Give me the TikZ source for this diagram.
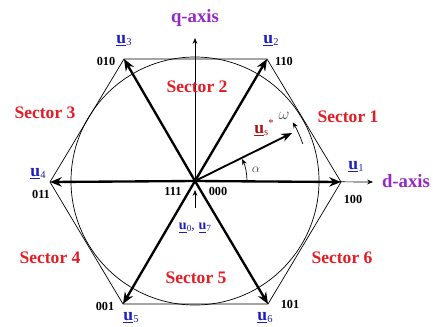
\documentclass[tikz,border=0pt]{standalone}
\usepackage{fontspec}
\setmainfont{Liberation Serif}
\usetikzlibrary{arrows.meta}
\definecolor{secred}{RGB}{228,28,36}
\definecolor{ublue}{RGB}{30,30,190}
\definecolor{axpurple}{RGB}{150,40,200}
\definecolor{usred}{RGB}{165,20,25}
\definecolor{thin}{RGB}{135,135,135}
\newcommand{\uvec}[1]{\underline{\textbf{u}}\raisebox{-0.25ex}{\small #1}}
\begin{document}
\begin{tikzpicture}[x=0.03cm,y=-0.03cm,
  vect/.style={line width=2pt,-{Stealth[length=10pt,width=8pt]}},
  thinline/.style={thin,line width=0.6pt},
  axis/.style={thin,line width=0.6pt,-{Stealth[length=5pt,width=4pt]}},
  sect/.style={text=secred,font=\bfseries\fontsize{15}{17}\selectfont},
  ulab/.style={text=ublue,font=\fontsize{15}{17}\selectfont},
  bin/.style={font=\bfseries\fontsize{10.5}{12}\selectfont},
  axlab/.style={text=axpurple,font=\bfseries\fontsize{16}{18}\selectfont}]
\useasboundingbox (0,0) rectangle (433,326);
% points
\coordinate (O) at (195,181);
\coordinate (V1) at (341,182);
\coordinate (V2) at (267,59);
\coordinate (V3) at (124,59);
\coordinate (V4) at (50,182);
\coordinate (V5) at (123,304);
\coordinate (V6) at (268,304);
\coordinate (Qend) at (195,38);
\coordinate (Dend) at (373,182);
\coordinate (Us) at (292,133);
% hexagon and circle
\draw[thinline] (V1) -- (V2) -- (V3) -- (V4) -- (V5) -- (V6) -- cycle;
\draw[thinline] (O) circle[radius=124];
% axes
\draw[axis] (O) -- (Qend);
\draw[axis] (O) -- (Dend);
% vectors
\draw[vect] (O) -- (V1);
\draw[vect] (O) -- (V2);
\draw[vect] (O) -- (V3);
\draw[vect] (O) -- (V4);
\draw[vect] (O) -- (V5);
\draw[vect] (O) -- (V6);
\draw[line width=1.6pt,-{Stealth[length=9pt,width=7pt]}] (O) -- (Us);
% alpha arc
\draw[axis] ([shift={(0:52)}]O) arc[start angle=0,end angle=-25,radius=52];
% omega arc
\draw[axis] ([shift={(-19:114)}]O) arc[start angle=-19,end angle=-31,radius=114];
% zero vector pointer
\coordinate (Zp) at (195,208);
\draw[axis] (Zp) -- (195,190);
% labels
\node[axlab] (qlab) at (195,18) {q-axis};
\node[axlab] (dlab) at (406,181) {d-axis};
\node[sect] (s1) at (348,117) {Sector 1};
\node[sect] (s2) at (197,87) {Sector 2};
\node[sect] (s3) at (45,113) {Sector 3};
\node[sect] (s4) at (50,258) {Sector 4};
\node[sect] (s5) at (196,278) {Sector 5};
\node[sect] (s6) at (342,258) {Sector 6};
\node[ulab] (l1) at (356,167) {\uvec{1}};
\node[ulab] (l2) at (271,41) {\uvec{2}};
\node[ulab] (l3) at (124,41) {\uvec{3}};
\node[ulab] (l4) at (38,174) {\uvec{4}};
\node[ulab] (l5) at (131,318) {\uvec{5}};
\node[ulab] (l6) at (265,318) {\uvec{6}};
\node[bin] (b1) at (353,199) {100};
\node[bin] (b2) at (284,61) {110};
\node[bin] (b3) at (106,61) {010};
\node[bin] (b4) at (41,194) {011};
\node[bin] (b5) at (105,306) {001};
\node[bin] (b6) at (290,304) {101};
\node[bin] (b111) at (173,191) {111};
\node[bin] (b000) at (218,191) {000};
\node[ulab,font=\fontsize{12}{14}\selectfont] (l07) at (195,228) {\underline{\textbf{u}}\raisebox{-0.2ex}{\footnotesize 0}, \underline{\textbf{u}}\raisebox{-0.2ex}{\footnotesize 7}};
\node[text=usred,font=\fontsize{15}{17}\selectfont] (lus) at (264,128) {\underline{\textbf{u}}\raisebox{-0.25ex}{\small s}\raisebox{0.9ex}{\small *}};
\node[text=thin!60!black,font=\fontsize{14}{16}\selectfont] (om) at (284,116) {$\omega$};
\node[text=thin!60!black,font=\fontsize{11}{13}\selectfont] (al) at (256,170) {$\alpha$};
\end{tikzpicture}
\end{document}
